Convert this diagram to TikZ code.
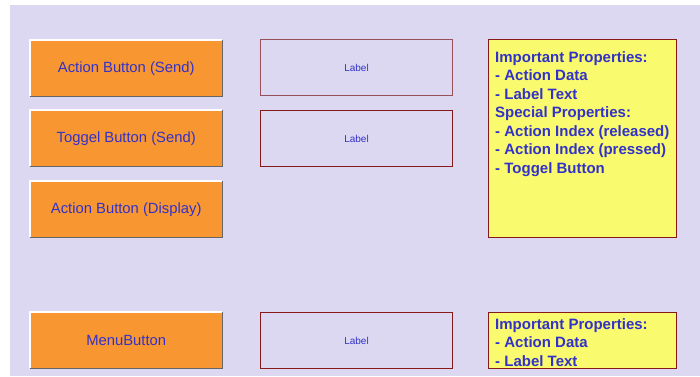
\documentclass[tikz,border=0pt]{standalone}
\usepackage{fontspec}
\setmainfont{Liberation Sans}
\definecolor{panel}{RGB}{220,216,242}
\definecolor{btnorange}{RGB}{248,150,50}
\definecolor{notefill}{RGB}{250,250,110}
\definecolor{inkblue}{RGB}{50,50,200}
\definecolor{frame}{RGB}{135,25,25}
\definecolor{framelight}{RGB}{150,80,90}
\begin{document}
\begin{tikzpicture}[x=1pt,y=-1pt,
  btn/.style={draw=none,fill=btnorange,minimum width=192pt,minimum height=56pt,
    inner sep=0pt,text=inkblue,font=\fontsize{14.8}{16}\selectfont,anchor=north west},
  lbl/.style={draw=frame,line width=1pt,minimum width=192pt,minimum height=56pt,
    inner sep=0pt,text=inkblue,font=\fontsize{10}{12}\selectfont,anchor=north west},
  note/.style={draw=frame,line width=1pt,fill=notefill,minimum width=188pt,
    inner sep=0pt,anchor=north west},
  notetext/.style={text=inkblue,font=\bfseries\fontsize{15}{18.5}\selectfont,
    align=left,anchor=north west,inner sep=0pt},
  hilite/.style={draw=white,line width=1.2pt},
  shade/.style={draw=gray!80!black,line width=1.6pt}]
\useasboundingbox (0,0) rectangle (700,376);
\fill[white] (0,0) rectangle (700,376);
\fill[panel] (10,5) rectangle (700,376);

% buttons with raised edges
\foreach \n/\y/\t in {b1/40/{Action Button (Send)},b2/110/{Toggel Button (Send)},
                      b3/181/{Action Button (Display)},b4/312/{MenuButton}}{
  \node[btn] (\n) at (30,\y) {\t};
  \draw[shade] (\n.north east) -- (\n.south east) -- (\n.south west);
  \draw[hilite] (\n.south west) -- (\n.north west) -- (\n.north east);
}

% label frames
\node[lbl,draw=framelight] (l1) at (260,39) {Label};
\node[lbl] (l2) at (260,110) {Label};
\node[lbl] (l3) at (260,312) {Label};

% property notes
\node[note,minimum height=198pt] (n1) at (488,39) {};
\node[notetext] (t1) at ([shift={(7,12)}]n1.north west) {Important Properties:\\
- Action Data\\
- Label Text\\
Special Properties:\\
- Action Index (released)\\
- Action Index (pressed)\\
- Toggel Button};
\node[note,minimum height=56pt] (n2) at (488,312) {};
\node[notetext] (t2) at ([shift={(7,6)}]n2.north west) {Important Properties:\\
- Action Data\\
- Label Text};
\end{tikzpicture}
\end{document}
